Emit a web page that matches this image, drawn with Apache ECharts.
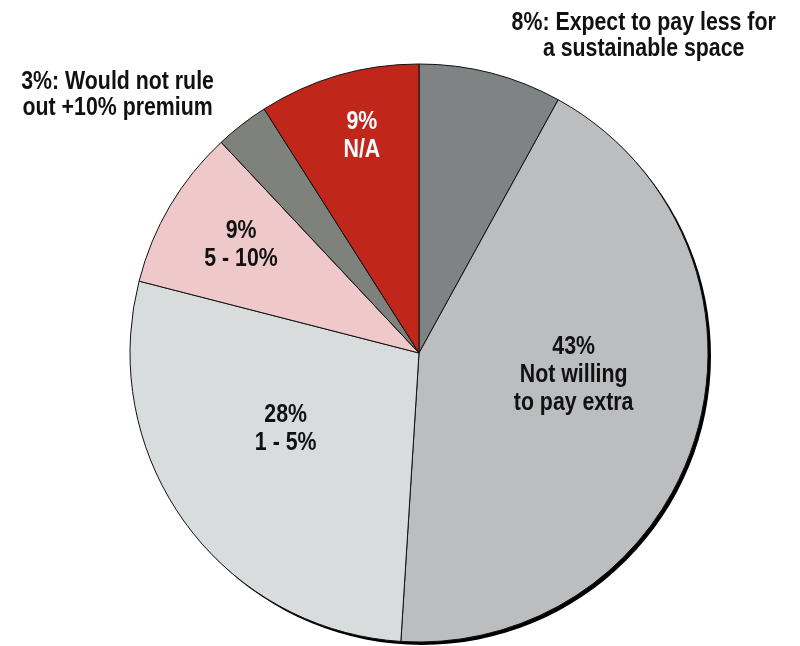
<!DOCTYPE html>
<html>
<head>
<meta charset="utf-8">
<script src="https://cdn.jsdelivr.net/npm/echarts@6/dist/echarts.min.js"></script>
<style>
  html, body { margin: 0; padding: 0; background: #ffffff; }
  #chart { width: 800px; height: 646px; }
</style>
</head>
<body>
<div id="chart"></div>
<script>
// Willingness to pay a premium for a sustainable space (share of respondents, %)
const categories = [
  'Expect to pay less for\na sustainable space',
  'Not willing\nto pay extra',
  '1 - 5%',
  '5 - 10%',
  'Would not rule\nout +10% premium',
  'N/A'
];
const shares = [8, 43, 28, 9, 3, 9];
const sliceColors = ['#7f8384', '#bcbdbf', '#d9dcdd', '#efc9c9', '#7f827c', '#c1261b'];

// Outside-style labels read "x%: text"; inside labels stack value over name
const outsideLabel = [true, false, false, false, true, false];
const labelOffsets = [[188, -174], [13, -19], [-14, -11], [-51, -33], [-211, -142], [-16, -76]];
const labelColors = ['#111', '#111', '#111', '#111', '#111', '#ffffff'];

const FONT = '"Liberation Sans", Arial, sans-serif';
const NARROW = 0.82; // condensed look for the bold label face
const CX = 419, CY = 353, R = 289;

const data = categories.map((name, i) => ({
  name: name,
  value: shares[i],
  itemStyle: { color: sliceColors[i] },
  label: {
    color: labelColors[i],
    offset: labelOffsets[i],
    lineHeight: outsideLabel[i] ? 26 : 28,
    formatter: outsideLabel[i]
      ? (p) => {
          const lines = p.name.split('\n');
          lines[0] = p.value + '%: ' + lines[0];
          return lines.join('\n');
        }
      : (p) => p.value + '%\n' + p.name
  }
}));

const chart = echarts.init(document.getElementById('chart'), null, { renderer: 'canvas' });
chart.setOption({
  animation: false,
  backgroundColor: '#ffffff',
  series: [
    {
      // dark drop edge behind the pie
      type: 'pie',
      silent: true,
      z: 1,
      center: [CX + 3, CY + 3],
      radius: R,
      label: { show: false },
      labelLine: { show: false },
      itemStyle: { color: '#000000', borderWidth: 0 },
      data: [{ value: 100, name: '' }]
    },
    {
      type: 'pie',
      z: 2,
      center: [CX, CY],
      radius: R,
      startAngle: 90,
      clockwise: true,
      avoidLabelOverlap: false,
      itemStyle: { borderColor: '#111111', borderWidth: 1 },
      label: {
        show: true,
        position: 'inside',
        fontFamily: FONT,
        fontWeight: 'bold',
        fontSize: 26,
        align: 'center'
      },
      labelLine: { show: false },
      emphasis: { disabled: true },
      data: data
    }
  ]
});

// squeeze label text horizontally around its anchor point
function condenseLabels() {
  const zr = chart.getZr();
  let changed = false;
  const visit = (el) => {
    const label = el.getTextContent && el.getTextContent();
    if (label && label.scaleX !== NARROW) {
      label.scaleX = NARROW;
      label.markRedraw();
      changed = true;
    }
    if (el.isGroup) el.eachChild(visit);
  };
  zr.storage.getRoots().forEach(visit);
  if (changed) zr.refreshImmediately();
}
condenseLabels();
chart.on('finished', condenseLabels);
</script>
</body>
</html>
